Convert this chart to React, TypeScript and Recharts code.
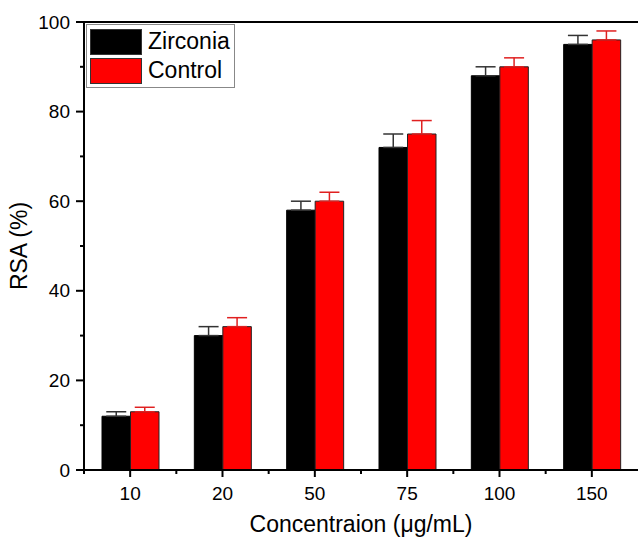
import { BarChart, Bar, XAxis, YAxis, ErrorBar, Legend, ReferenceLine } from "recharts";

const categories = ["10", "20", "50", "75", "100", "150"];
const zirconia = [12, 30, 58, 72, 88, 95];
const zirconiaErr = [1, 2, 2, 3, 2, 2];
const control = [13, 32, 60, 75, 90, 96];
const controlErr = [1, 2, 2, 3, 2, 2];
const yTicks = [0, 10, 20, 30, 40, 50, 60, 70, 80, 90, 100];
const seriesOrder = ["Zirconia", "Control"];

const W = 638;
const H = 543;
const LEFT = 84;
const FONT = "'Liberation Sans', Arial, sans-serif";

const data = categories.map((c, i) => ({
  name: c,
  zirconia: zirconia[i],
  zErr: [0, zirconiaErr[i]],
  control: control[i],
  cErr: [0, controlErr[i]],
}));

const BAND = (W - LEFT) / categories.length;

function YTick(props: any) {
  const { x, y, payload } = props;
  const major = payload.value % 20 === 0;
  return (
    <g>
      <line x1={x - (major ? 8 : 4)} x2={x} y1={y} y2={y} stroke="#000" strokeWidth={2} />
      {major && (
        <text x={x - 14} y={y} textAnchor="end" dominantBaseline="central" fontSize={19} fontFamily={FONT} fill="#000">
          {payload.value}
        </text>
      )}
    </g>
  );
}

function XTick(props: any) {
  const { x, y, payload } = props;
  return (
    <g>
      <line x1={x} x2={x} y1={y} y2={y + 7} stroke="#000" strokeWidth={2} />
      <line x1={x - BAND / 2} x2={x - BAND / 2} y1={y} y2={y + 4} stroke="#000" strokeWidth={2} />
      <text x={x} y={y + 23} textAnchor="middle" dominantBaseline="central" fontSize={19} fontFamily={FONT} fill="#000">
        {payload.value}
      </text>
    </g>
  );
}

function LegendBox({ payload }: any) {
  const items = [...(payload || [])].sort(
    (a: any, b: any) => seriesOrder.indexOf(a.value) - seriesOrder.indexOf(b.value)
  );
  return (
    <div style={{ border: "1px solid #888", padding: "2px 3px", background: "#fff", fontFamily: FONT, width: 141 }}>
      {items.map((p: any) => (
        <div key={p.value} style={{ display: "flex", alignItems: "center", height: 29 }}>
          <div style={{ width: 52, height: 26, background: p.color, border: "1px solid #333", boxSizing: "border-box" }} />
          <span style={{ marginLeft: 6, fontSize: 23, color: "#000" }}>{p.value}</span>
        </div>
      ))}
    </div>
  );
}

export default function App() {
  return (
    <div style={{ position: "absolute", left: 0, top: 0, width: W, height: H, background: "#fff" }}>
      <BarChart width={W} height={H} data={data} margin={{ top: 22, right: 0, bottom: 0, left: 0 }} barGap={0} barSize={28.5}>
        <XAxis
          dataKey="name"
          height={73}
          tickLine={false}
          tickSize={0}
          tickMargin={0}
          axisLine={{ stroke: "#000", strokeWidth: 2 }}
          tick={<XTick />}
          interval={0}
          label={({ viewBox }: any) => (
            <text x={viewBox.x + viewBox.width / 2} y={524} textAnchor="middle" dominantBaseline="central" fontSize={23} fontFamily={FONT} fill="#000">
              Concentraion (μg/mL)
            </text>
          )}
        />
        <YAxis
          width={LEFT}
          domain={[0, 100]}
          ticks={yTicks}
          interval={0}
          tickLine={false}
          tickSize={0}
          tickMargin={0}
          axisLine={{ stroke: "#000", strokeWidth: 2 }}
          tick={<YTick />}
          label={({ viewBox }: any) => (
            <text
              x={19}
              y={viewBox.y + viewBox.height / 2}
              transform={`rotate(-90 19 ${viewBox.y + viewBox.height / 2})`}
              textAnchor="middle"
              dominantBaseline="central"
              fontSize={23}
              fontFamily={FONT}
              fill="#000"
            >
              RSA (%)
            </text>
          )}
        />
        <ReferenceLine y={100} stroke="#000" strokeWidth={2} />
        <Legend
          layout="vertical"
          align="center"
          verticalAlign="middle"
          wrapperStyle={{ position: "absolute", left: 86, top: 24, width: "auto" }}
          content={<LegendBox />}
        />
        <Bar dataKey="zirconia" name="Zirconia" fill="#000" stroke="#000" strokeWidth={1} isAnimationActive={false}>
          <ErrorBar dataKey="zErr" width={10} stroke="#333" strokeWidth={1.5} direction="y" />
        </Bar>
        <Bar dataKey="control" name="Control" fill="#ff0000" stroke="#222" strokeWidth={1} isAnimationActive={false}>
          <ErrorBar dataKey="cErr" width={10} stroke="#e02020" strokeWidth={1.5} direction="y" />
        </Bar>
      </BarChart>
    </div>
  );
}
